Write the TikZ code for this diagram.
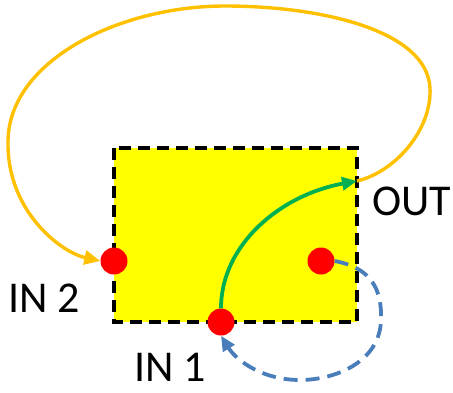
\documentclass[tikz,border=0pt]{standalone}
\usepackage{fontspec}
\setmainfont{Carlito}
\usetikzlibrary{positioning,calc}
\usetikzlibrary{arrows.meta}
\definecolor{BoxYellow}{RGB}{255,255,0}
\definecolor{LinkOrange}{RGB}{255,192,0}
\definecolor{LinkGreen}{RGB}{0,176,80}
\definecolor{LinkBlue}{RGB}{74,126,187}
\definecolor{PortRed}{RGB}{255,0,0}
\tikzset{
  block/.style={draw=black,fill=BoxYellow,line width=4.5pt,dash pattern=on 12pt off 7pt},
  port/.style={circle,fill=PortRed,inner sep=0pt,minimum size=27pt},
  tag/.style={font=\fontsize{44}{46}\selectfont,inner sep=0pt},
}
\tikzset{link/.style={line width=3.8pt,-{Triangle[length=15pt,width=13pt]}}}
\begin{document}
\begin{tikzpicture}[x=1pt,y=-1pt]
\useasboundingbox (0,0) rectangle (453,392);
\draw[block] (114,148) rectangle (357,322);
\coordinate (out) at (357,181);
\node[port] (in2) at (114,261) {};
\node[port] (in1) at (221,322) {};
\node[port] (fb) at (321,261) {};
% output to input 2
\draw[link,draw=LinkOrange,line width=3.4pt,-{Triangle[length=16pt,width=14pt]}] (out)
  .. controls (395,172) and (432,130) .. (430,88)
  .. controls (427,30) and (320,6) .. (225,6)
  .. controls (120,6) and (10,60) .. (8,140)
  .. controls (6,210) and (60,252) .. (in2.west);
% input 1 to output
\draw[link,draw=LinkGreen] (in1.north)
  .. controls (221,245) and (280,195) .. (out);
% feedback loop
\draw[link,draw=LinkBlue,dash pattern=on 14pt off 8pt] (fb.east)
  .. controls (372,268) and (382,290) .. (381,320)
  .. controls (380,362) and (335,380) .. (300,380)
  .. controls (262,380) and (236,360) .. (in1.south);
\node[tag] (outlab) at (412,201) {OUT};
\node[tag] (in2lab) at (44,298) {IN 2};
\node[tag] (in1lab) at (170,367) {IN 1};
\end{tikzpicture}
\end{document}
